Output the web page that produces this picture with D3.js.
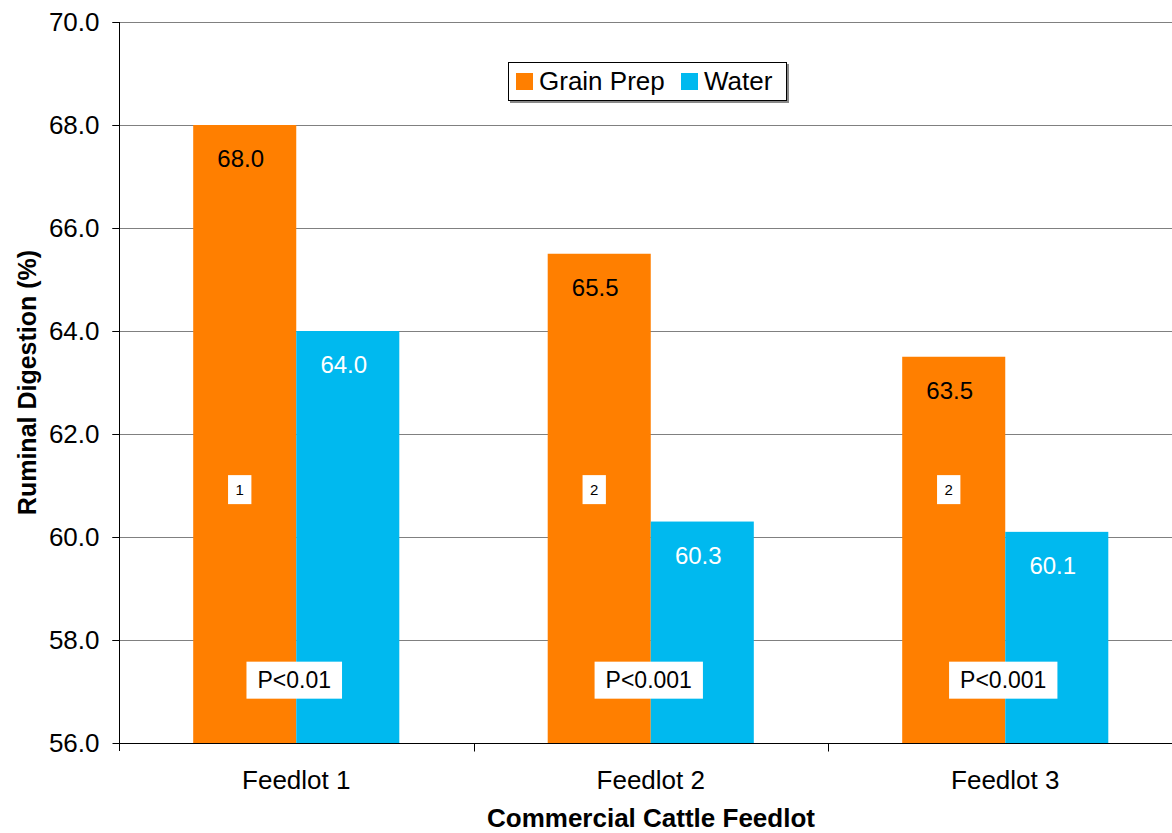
<!DOCTYPE html>
<html>
<head>
<meta charset="utf-8">
<script src="https://cdn.jsdelivr.net/npm/d3@7"></script>
<style>
  body { margin: 0; background: #fff; }
  svg { display: block; font-family: "Liberation Sans", Arial, sans-serif; }
</style>
</head>
<body>
<div id="chart"></div>
<script>
// data
const feedlots = ["Feedlot 1", "Feedlot 2", "Feedlot 3"];
const seriesNames = ["Grain Prep", "Water"];
const grainPrep = [68.0, 65.5, 63.5];
const water = [64.0, 60.3, 60.1];
const footnotes = ["1", "2", "2"];
const pValues = ["P<0.01", "P<0.001", "P<0.001"];
const yTicks = [56, 58, 60, 62, 64, 66, 68, 70];

const colors = { "Grain Prep": "#FF7F00", "Water": "#00B9EF" };

const width = 1172, height = 833;
const margin = { top: 22, left: 119, bottom: 90 };
const catStep = 354.5;

const svg = d3.select("#chart")
    .append("svg")
    .attr("width", width)
    .attr("height", height)
    .style("background", "#fff");

// scales
const x0 = d3.scaleBand()
    .domain(feedlots)
    .range([margin.left, margin.left + catStep * feedlots.length])
    .padding(0);

const x1 = d3.scaleBand()
    .domain(seriesNames)
    .range([0, x0.bandwidth()])
    .paddingInner(0)
    .paddingOuter(0.72);

const y = d3.scaleLinear()
    .domain([56, 70])
    .range([height - margin.bottom, margin.top]);

// gridlines
svg.append("g")
    .selectAll("line")
    .data(yTicks.filter(d => d > 56))
    .enter()
    .append("line")
    .attr("x1", margin.left - 7)
    .attr("x2", width)
    .attr("y1", d => Math.round(y(d)) + 0.5)
    .attr("y2", d => Math.round(y(d)) + 0.5)
    .attr("stroke", "#808080")
    .attr("stroke-width", 1);

// bars
const rows = feedlots.map((f, i) => ({ feedlot: f, values: [
    { name: "Grain Prep", value: grainPrep[i] },
    { name: "Water", value: water[i] }
] }));

const groups = svg.append("g")
    .selectAll("g")
    .data(rows)
    .enter()
    .append("g")
    .attr("transform", d => `translate(${x0(d.feedlot)},0)`);

groups.selectAll("rect")
    .data(d => d.values)
    .enter()
    .append("rect")
    .attr("x", d => x1(d.name))
    .attr("y", d => y(d.value))
    .attr("width", x1.bandwidth())
    .attr("height", d => y(56) - y(d.value))
    .attr("fill", d => colors[d.name]);

// value labels inside bars
groups.selectAll("text.val")
    .data(d => d.values)
    .enter()
    .append("text")
    .attr("class", "val")
    .attr("x", d => x1(d.name) + x1.bandwidth() / 2 - 4)
    .attr("y", d => y(d.value) + 42)
    .attr("text-anchor", "middle")
    .style("font-size", "24px")
    .style("fill", d => d.name === "Water" ? "#fff" : "#000")
    .text(d => d.value.toFixed(1));

// helper for white-boxed labels
function boxedLabel(g, cx, cy, txt, size, padX, boxH) {
    const t = g.append("text")
        .attr("x", cx)
        .attr("y", cy)
        .attr("text-anchor", "middle")
        .attr("dominant-baseline", "central")
        .style("font-size", size + "px")
        .style("fill", "#000")
        .text(txt);
    const w = t.node().getComputedTextLength() + padX * 2;
    g.insert("rect", "text")
        .attr("x", cx - w / 2)
        .attr("y", cy - boxH / 2)
        .attr("width", w)
        .attr("height", boxH)
        .attr("fill", "#fff");
}

// footnote boxes and P value boxes
const noteLevel = 60.92, pLevel = 57.22;
feedlots.forEach((f, i) => {
    const g1 = svg.append("g");
    boxedLabel(g1, x0(f) + x1("Grain Prep") + x1.bandwidth() / 2 - 5, y(noteLevel), footnotes[i], 15, 7.5, 29);
    const g2 = svg.append("g");
    boxedLabel(g2, x0(f) + x0.bandwidth() / 2 - 2, y(pLevel), pValues[i], 23, 11, 37);
});

// y axis
const yAxis = svg.append("g")
    .attr("transform", `translate(${margin.left + 0.5},0)`)
    .call(d3.axisLeft(y).tickValues(yTicks).tickFormat(d3.format(".1f")).tickSize(7).tickPadding(13));
yAxis.select(".domain").attr("stroke", "#000").attr("d", `M0,${y(70)}V${y(56) + 8}`);
yAxis.selectAll(".tick line").attr("stroke", "#000");
yAxis.selectAll(".tick text")
    .style("font-size", "26px")
    .style("font-family", "'Liberation Sans', Arial, sans-serif")
    .attr("fill", "#000");

// x axis
const xAxis = svg.append("g")
    .attr("transform", `translate(0,${Math.round(y(56)) + 0.5})`)
    .call(d3.axisBottom(x0).tickSize(0).tickPadding(27));
xAxis.select(".domain").attr("stroke", "#000").attr("d", `M${margin.left},0H${width}`);
xAxis.selectAll(".tick text")
    .style("font-size", "26px")
    .style("font-family", "'Liberation Sans', Arial, sans-serif")
    .attr("fill", "#000");

// category separator ticks
xAxis.append("g")
    .selectAll("line")
    .data(feedlots.slice(1))
    .enter()
    .append("line")
    .attr("x1", d => Math.round(x0(d)) + 0.5)
    .attr("x2", d => Math.round(x0(d)) + 0.5)
    .attr("y1", 0)
    .attr("y2", 8)
    .attr("stroke", "#000");

// axis titles
svg.append("text")
    .attr("x", 651)
    .attr("y", 827)
    .attr("text-anchor", "middle")
    .style("font-size", "26px")
    .style("font-weight", "bold")
    .text("Commercial Cattle Feedlot");

svg.append("text")
    .attr("transform", `translate(36,${(y(56) + y(70)) / 2}) rotate(-90)`)
    .attr("text-anchor", "middle")
    .style("font-size", "25px")
    .style("font-weight", "bold")
    .text("Ruminal Digestion (%)");

// legend
const legend = svg.append("g").attr("transform", "translate(508,62)");
legend.append("rect")
    .attr("x", 2).attr("y", 2)
    .attr("width", 279).attr("height", 39)
    .attr("fill", "#888");
legend.append("rect")
    .attr("x", 0.5).attr("y", 0.5)
    .attr("width", 278).attr("height", 38)
    .attr("fill", "#fff")
    .attr("stroke", "#000");

const legendX = [8, 173];
seriesNames.forEach((s, i) => {
    legend.append("rect")
        .attr("x", legendX[i])
        .attr("y", 11)
        .attr("width", 17)
        .attr("height", 17)
        .attr("fill", colors[s]);
    legend.append("text")
        .attr("x", legendX[i] + 23)
        .attr("y", 28)
        .style("font-size", "26px")
        .text(s);
});
</script>
</body>
</html>
